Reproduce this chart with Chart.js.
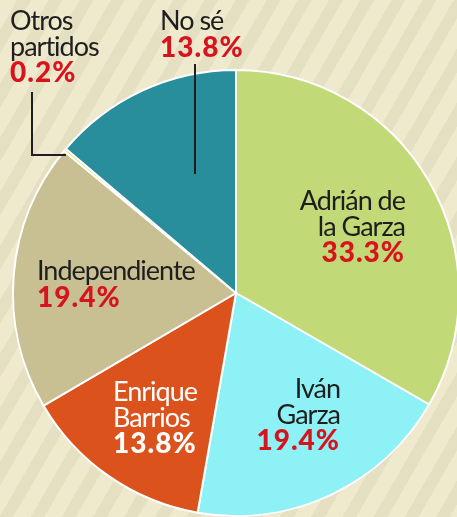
<!DOCTYPE html>
<html>
<head>
<meta charset="utf-8">
<script src="https://cdn.jsdelivr.net/npm/chart.js@4"></script>
<style>
  html, body {
    margin: 0;
    padding: 0;
    width: 457px;
    height: 517px;
    overflow: hidden;
    background: repeating-linear-gradient(120deg, #efe9cd 0 15px, #e6e0c3 15px 27px);
  }
  #wrap { position: absolute; left: 0; top: 0; width: 472px; height: 517px; }
</style>
</head>
<body>
<div id="wrap"><canvas id="pie-chart" width="472" height="517"></canvas></div>
<script>
const candidates = ["Adrián de la Garza", "Iván Garza", "Enrique Barrios", "Independiente", "Otros partidos", "No sé"];
const shares = [33.3, 19.4, 13.8, 19.4, 0.2, 13.8];
const sliceColors = ["#c2d977", "#8ef1f6", "#dc521d", "#c8bf93", "#d9dc1e", "#288e9c"];
const nameLines = [["Adrián de", "la Garza"], ["Iván", "Garza"], ["Enrique", "Barrios"], ["Independiente"], ["Otros", "partidos"], ["No sé"]];

// where each label block sits (x, baseline of first line, alignment)
const labelSpots = [
  { x: 405, y: 210, align: "right", color: "#1e1e1e", pct: "#d7141e" },
  { x: 340, y: 398, align: "right", color: "#1e1e1e", pct: "#d7141e" },
  { x: 113, y: 401, align: "left", color: "#ffffff", pct: "#ffffff" },
  { x: 37, y: 280, align: "left", color: "#1e1e1e", pct: "#d7141e" },
  { x: 10, y: 30, align: "left", color: "#1e1e1e", pct: "#d7141e" },
  { x: 160, y: 30, align: "left", color: "#1e1e1e", pct: "#d7141e" },
];

const labelPlugin = {
  id: "pieLabels",
  afterDraw(chart) {
    const ctx = chart.ctx;
    const arcs = chart.getDatasetMeta(0).data;
    ctx.save();

    // leader line for "No sé"
    ctx.strokeStyle = "#1e1e1e";
    ctx.lineWidth = 2;
    ctx.beginPath();
    ctx.moveTo(195, 64);
    ctx.lineTo(195, 174);
    ctx.stroke();

    // leader line for "Otros partidos", ending at the thin slice's edge
    const otros = arcs[4];
    const mid = (otros.startAngle + otros.endAngle) / 2;
    const ex = otros.x + otros.outerRadius * Math.cos(mid);
    const ey = otros.y + otros.outerRadius * Math.sin(mid);
    ctx.beginPath();
    ctx.moveTo(32, 92);
    ctx.lineTo(32, ey + 5);
    ctx.lineTo(ex + 1, ey + 5);
    ctx.stroke();

    ctx.textBaseline = "alphabetic";
    candidates.forEach((c, i) => {
      const s = labelSpots[i];
      ctx.textAlign = s.align;
      ctx.fillStyle = s.color;
      ctx.font = "27px Lato";
      ctx.letterSpacing = "-1px";
      let y = s.y;
      nameLines[i].forEach((line) => {
        ctx.fillText(line, s.x, y);
        y += 25.5;
      });
      ctx.fillStyle = s.pct;
      ctx.font = "900 28px Lato";
      ctx.letterSpacing = "1px";
      ctx.fillText(shares[i].toFixed(1) + "%", s.x, y + 1);
    });
    ctx.restore();
  },
};

const ctx = document.getElementById("pie-chart").getContext("2d");

const pieChart = new Chart(ctx, {
  type: "pie",
  data: {
    labels: candidates,
    datasets: [
      {
        data: shares,
        backgroundColor: sliceColors,
        borderColor: "#ffffff",
        borderWidth: 2,
      },
    ],
  },
  options: {
    responsive: false,
    animation: false,
    layout: {
      padding: { left: 12, top: 69, right: 12, bottom: 0 },
    },
    plugins: {
      legend: { display: false },
      tooltip: { enabled: false },
    },
  },
  plugins: [labelPlugin],
});
</script>
</body>
</html>
